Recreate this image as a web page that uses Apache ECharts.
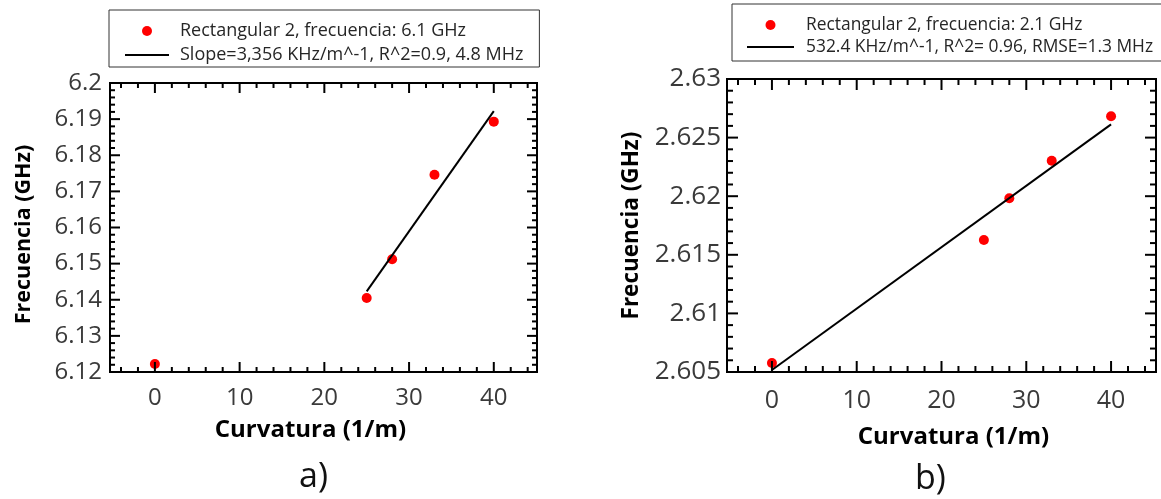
<!DOCTYPE html>
<html><head><meta charset="utf-8">
<script src="https://cdn.jsdelivr.net/npm/echarts@6/dist/echarts.min.js"></script>
<style>html,body{margin:0;padding:0;background:#fff}#c{width:1161px;height:499px}</style>
</head><body><div id="c"></div>
<script>
// ---- data ----
const curvA = [0, 25, 28, 33, 40];
const freqA = [6.1222, 6.1405, 6.1512, 6.1746, 6.1893];
const fitCurvA = [25, 40];
const fitFreqA = [6.1423, 6.1922];
const curvB = [0, 25, 28, 33, 40];
const freqB = [2.60577, 2.61626, 2.61982, 2.62303, 2.62682];
const fitCurvB = [0, 40];
const fitFreqB = [2.60517, 2.62613];
const nameScatterA = 'Rectangular 2, frecuencia: 6.1 GHz';
const nameFitA = 'Slope=3,356 KHz/m^-1, R^2=0.9, 4.8 MHz';
const nameScatterB = 'Rectangular 2, frecuencia: 2.1 GHz';
const nameFitB = '532.4 KHz/m^-1, R^2= 0.96, RMSE=1.3 MHz';
const xTitle = 'Curvatura (1/m)';
const yTitle = 'Frecuencia (GHz)';
const panelLabels = ['a)', 'b)'];

// ---- axis ranges / tick steps ----
const xRangeA = [-5.3, 45.1], yRangeA = [6.12, 6.2];
const xRangeB = [-5.3, 45.3], yRangeB = [2.605, 2.63];
const xMajor = 10, xMinor = 2;
const yMajorA = 0.01, yMinorA = 0.002;
const yMajorB = 0.005, yMinorB = 0.001;

const FF = 'Open Sans';
const pairs = (xs, ys) => xs.map((x, i) => [x, ys[i]]);
const mid = r => (r[0] + r[1]) / 2;

// tick positions along one axis; each item lies inside both axis ranges
function tickList(range, step, major, otherValue, isX) {
  const out = [];
  const k0 = Math.ceil(range[0] / step - 1e-6), k1 = Math.floor(range[1] / step + 1e-6);
  for (let k = k0; k <= k1; k++) {
    const v = +(k * step).toFixed(6);
    const r = v / major;
    const maj = Math.abs(r - Math.round(r)) < 1e-6 ? 1 : 0;
    out.push(isX ? [v, otherValue, maj] : [otherValue, v, maj]);
  }
  return out;
}
function tickSeries(xi, yi, ticks, isX, majLen, minLen) {
  return {
    type: 'custom', xAxisIndex: xi, yAxisIndex: yi, data: ticks, silent: true, z: 5, clip: false,
    encode: { x: 0, y: 1 },
    renderItem: function (params, api) {
      const cs = params.coordSys;
      const p = api.coord([api.value(0), api.value(1)]);
      const len = api.value(2) ? majLen : minLen;
      const st = { stroke: '#000', lineWidth: 2 };
      if (isX) {
        const b = cs.y + cs.height, t = cs.y;
        return { type: 'group', children: [
          { type: 'line', shape: { x1: p[0], y1: b, x2: p[0], y2: b - len }, style: st },
          { type: 'line', shape: { x1: p[0], y1: t, x2: p[0], y2: t + len }, style: st }
        ] };
      }
      const l = cs.x, r = cs.x + cs.width;
      return { type: 'group', children: [
        { type: 'line', shape: { x1: l, y1: p[1], x2: l + len, y2: p[1] }, style: st },
        { type: 'line', shape: { x1: r, y1: p[1], x2: r - len, y2: p[1] }, style: st }
      ] };
    }
  };
}

function valAxis(grid, range, interval, extra) {
  const o = {
    type: 'value', gridIndex: grid, min: range[0], max: range[1],
    axisLine: { show: false }, axisTick: { show: false }, minorTick: { show: false },
    splitLine: { show: false }
  };
  if (interval) o.interval = interval;
  return Object.assign(o, extra);
}

const lineIcon = 'path://M0,0L44,0L44,2L0,2Z';
const gridStyle = { show: true, borderColor: '#000', borderWidth: 2, backgroundColor: 'transparent' };

const chart = echarts.init(document.getElementById('c'));
chart.setOption({
  animation: false,
  backgroundColor: '#fff',
  grid: [
    Object.assign({ left: 110, top: 83, width: 427, height: 289 }, gridStyle),
    Object.assign({ left: 727, top: 79, width: 429, height: 293 }, gridStyle)
  ],
  xAxis: [
    valAxis(0, xRangeA, null, {
      axisLabel: { show: true, showMinLabel: false, showMaxLabel: false, margin: 14, fontSize: 24, color: '#3a3a3a', fontFamily: FF },
      name: xTitle, nameLocation: 'middle', nameGap: 46,
      nameTextStyle: { fontSize: 24, fontWeight: 'bold', color: '#000', fontFamily: FF, verticalAlign: 'top', padding: [0, 26, 0, 0] }
    }),
    valAxis(1, xRangeB, null, {
      axisLabel: { show: true, showMinLabel: false, showMaxLabel: false, margin: 16, fontSize: 25, color: '#3a3a3a', fontFamily: FF },
      name: xTitle, nameLocation: 'middle', nameGap: 53,
      nameTextStyle: { fontSize: 24, fontWeight: 'bold', color: '#000', fontFamily: FF, verticalAlign: 'top', padding: [0, 0, 0, 24] }
    })
  ],
  yAxis: [
    valAxis(0, yRangeA, yMajorA, {
      axisLabel: { show: true, margin: 8, fontSize: 24, color: '#3a3a3a', fontFamily: FF },
      name: yTitle, nameLocation: 'middle', nameGap: 75,
      nameTextStyle: { fontSize: 21.5, fontWeight: 'bold', color: '#000', fontFamily: FF, padding: [0, 14, 0, 0] }
    }),
    valAxis(1, yRangeB, yMajorB, {
      axisLabel: { show: true, margin: 6, fontSize: 26, color: '#3a3a3a', fontFamily: FF },
      name: yTitle, nameLocation: 'middle', nameGap: 84,
      nameTextStyle: { fontSize: 22.5, fontWeight: 'bold', color: '#000', fontFamily: FF }
    })
  ],
  legend: [
    {
      data: [nameScatterA, { name: nameFitA, icon: lineIcon }], orient: 'vertical', left: 109, top: 10,
      padding: [12, 16, 3, 16], itemWidth: 44, itemHeight: 10, itemGap: 6,
      borderColor: '#333', borderWidth: 1, selectedMode: false,
      textStyle: { fontSize: 18, lineHeight: 18, color: '#262626', fontFamily: FF, padding: [0, 0, 0, 6] }
    },
    {
      data: [nameScatterB, { name: nameFitB, icon: lineIcon }], orient: 'vertical', left: 732, top: 4,
      padding: [12, 16, 5, 15], itemWidth: 47, itemHeight: 10, itemGap: 4,
      borderColor: '#333', borderWidth: 1, selectedMode: false,
      textStyle: { fontSize: 17.4, lineHeight: 18, color: '#262626', fontFamily: FF, padding: [0, 0, 0, 7] }
    }
  ],
  series: [
    { name: nameScatterA, type: 'scatter', xAxisIndex: 0, yAxisIndex: 0, data: pairs(curvA, freqA),
      symbol: 'circle', symbolSize: 10, itemStyle: { color: '#ff0000', opacity: 1 }, z: 2 },
    { name: nameFitA, type: 'line', xAxisIndex: 0, yAxisIndex: 0, data: pairs(fitCurvA, fitFreqA),
      symbol: 'none', lineStyle: { color: '#000', width: 2 }, itemStyle: { color: '#000' }, z: 3 },
    { name: nameScatterB, type: 'scatter', xAxisIndex: 1, yAxisIndex: 1, data: pairs(curvB, freqB),
      symbol: 'circle', symbolSize: 10, itemStyle: { color: '#ff0000', opacity: 1 }, z: 2 },
    { name: nameFitB, type: 'line', xAxisIndex: 1, yAxisIndex: 1, data: pairs(fitCurvB, fitFreqB),
      symbol: 'none', lineStyle: { color: '#000', width: 2 }, itemStyle: { color: '#000' }, z: 3 },
    tickSeries(0, 0, tickList(xRangeA, xMinor, xMajor, mid(yRangeA), true), true, 10, 5),
    tickSeries(0, 0, tickList(yRangeA, yMinorA, yMajorA, mid(xRangeA), false), false, 10, 5),
    tickSeries(1, 1, tickList(xRangeB, xMinor, xMajor, mid(yRangeB), true), true, 11, 6),
    tickSeries(1, 1, tickList(yRangeB, yMinorB, yMajorB, mid(xRangeB), false), false, 11, 6)
  ],
  graphic: [
    { type: 'text', left: 299, top: 460, style: { text: panelLabels[0], fontSize: 34, fontFamily: FF, fill: '#111' } },
    { type: 'text', left: 915, top: 462, style: { text: panelLabels[1], fontSize: 34, fontFamily: FF, fill: '#111' } }
  ]
});
</script></body></html>
